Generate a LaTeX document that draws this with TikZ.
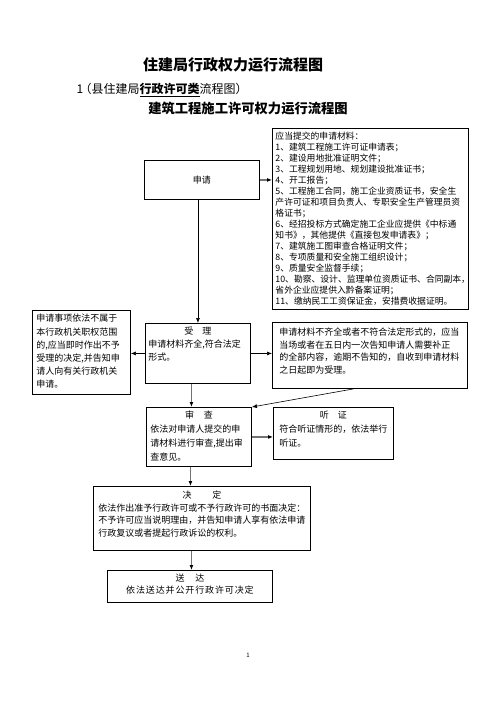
\documentclass[tikz,border=0pt]{standalone}
\usepackage{fontspec}
\setmainfont{Noto Sans CJK SC}
\XeTeXlinebreaklocale "zh"
\XeTeXlinebreakskip = 0pt plus 1pt
\usetikzlibrary{arrows.meta}

\newcommand{\boxhead}[1]{\makebox[\linewidth]{#1}}

\tikzset{
  box/.style={draw, line width=0.9pt, anchor=north west, align=left, inner ysep=0pt,
    font=\fontsize{9}{12.5}\selectfont},
  thinarr/.style={-{Latex[length=5pt,width=4pt]}, line width=0.6pt},
  grayarr/.style={-{Latex[length=5pt,width=4pt,color=black]}, line width=1.6pt, draw=black!55},
}

\begin{document}
\begin{tikzpicture}[x=1pt,y=-1pt]
\useasboundingbox (0,0) rectangle (496,702);

% titles
\node[font=\fontsize{15}{15}\selectfont\bfseries] (title) at (233,65) {住建局行政权力运行流程图};
\node[anchor=west, font=\fontsize{12}{12}\selectfont] (sub) at (73,90) {1\hspace{-0.3em}（县住建局\underline{\textbf{行政许可类}}流程图）};
\node[font=\fontsize{13.3}{13.3}\selectfont\bfseries] (title2) at (248,108) {建筑工程施工许可权力运行流程图};

% first row
\node[draw, line width=0.9pt, anchor=north west, minimum width=115pt, minimum height=39pt,
  font=\fontsize{9}{12}\selectfont] (shenqing) at (144,160) {申请};

\node[box, font=\fontsize{8.8}{11}\selectfont, inner xsep=3pt, text width=190pt,
  text height=11.4pt, text depth=169.6pt] (cailiao) at (272,128)
  {应当提交的申请材料：\\
   1、建筑工程施工许可证申请表；\\
   2、建设用地批准证明文件；\\
   3、工程规划用地、规划建设批准证书；\\
   4、开工报告；\\
   5、工程施工合同，施工企业资质证书，安全生\\
   产许可证和项目负责人、专职安全生产管理员资\\
   格证书；\\
   6、经招投标方式确定施工企业应提供《中标通\\
   知书》，其他提供《直接包发申请表》；\\
   7、建筑施工图审查合格证明文件；\\
   8、专项质量和安全施工组织设计；\\
   9、质量安全监督手续；\\
   \mbox{10、勘察、设计、监理单位资质证书、合同副本，}\\
   省外企业应提供入黔备案证明；\\
   11、缴纳民工工资保证金，安措费收据证明。};

% second row
\node[box, font=\fontsize{9}{13.2}\selectfont, inner xsep=4pt, text width=90pt,
  text height=11.4pt, text depth=72.6pt] (buyu) at (32,310)
  {申请事项依法不属于\\本行政机关职权范围\\的,应当即时作出不予\\受理的决定,并告知申\\请人向有关行政机关\\申请。};

\node[box, font=\fontsize{9}{13}\selectfont, inner xsep=3pt, text width=99pt,
  text height=11.4pt, text depth=48.6pt] (shouli) at (145,323)
  {\boxhead{受\hspace{1em}理}\\申请材料齐全,符合法定\\形式。};

\node[box, inner xsep=7pt, text width=181pt,
  text height=13.4pt, text depth=52.6pt] (buzheng) at (272,322)
  {申请材料不齐全或者不符合法定形式的，应当\\当场或者在五日内一次告知申请人需要补正\\的全部内容，逾期不告知的，自收到申请材料\\之日起即为受理。};

% third row
\node[box, font=\fontsize{9}{14}\selectfont, inner xsep=4pt, text width=97pt,
  text height=11.4pt, text depth=47.6pt] (shencha) at (146,407)
  {\boxhead{审\hspace{1.1em}查}\\依法对申请人提交的申\\请材料进行审查,提出审\\查意见。};

\node[box, font=\fontsize{9}{14}\selectfont, inner xsep=6pt, text width=108pt,
  text height=11.4pt, text depth=40.6pt] (tingzheng) at (273,407)
  {\boxhead{听\hspace{1em}证}\\符合听证情形的，依法举行\\听证。};

% decision and delivery
\node[box, inner xsep=5pt, text width=207pt,
  text height=12.4pt, text depth=51.6pt] (jueding) at (93,486)
  {\boxhead{决\hspace{2.3em}定}\\依法作出准予行政许可或不予行政许可的书面决定：\\不予许可应当说明理由，并告知申请人享有依法申请\\行政复议或者提起行政诉讼的权利。};

\node[box, align=center, font=\fontsize{9}{12}\selectfont, inner xsep=3pt, text width=159pt,
  text height=11.4pt, text depth=20.6pt] (songda) at (107,570)
  {送\hspace{1.2em}达\\依法送达并公开行政许可决定};

\node[font=\fontsize{6}{6}\selectfont] (page) at (248,655) {1};

% connectors
\coordinate (c1) at ([xshift=-6.5pt]shouli.south);
\coordinate (c2) at ([xshift=-8.5pt]shencha.south);
\coordinate (c3) at ([xshift=-10.5pt]jueding.south);
\coordinate (c4) at ([xshift=-16.5pt]buzheng.south);

\draw[grayarr] (shenqing.east) -- (shenqing.east -| cailiao.west);
\draw[thinarr] (shenqing.south -| shouli.north) -- (shouli.north);
\draw[thinarr] (shouli.west) -- (shouli.west -| buyu.east);
\draw[thinarr] (shouli.east) -- (shouli.east -| buzheng.west);
\draw[grayarr] (c1) -- (c1 |- shencha.north);
\draw[thinarr] (c4) -- (shencha.north east);
\draw[grayarr] (shencha.east) -- (shencha.east -| tingzheng.west);
\draw[grayarr] (c2) -- (c2 |- jueding.north);
\draw[grayarr] (c3) -- (c3 |- songda.north);
\end{tikzpicture}
\end{document}
